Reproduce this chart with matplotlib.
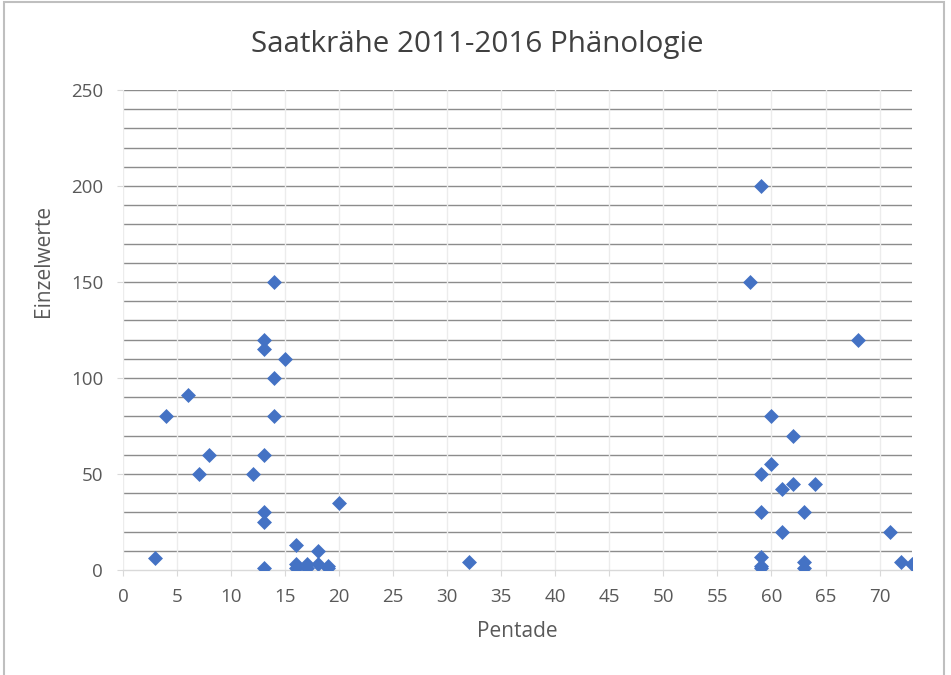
import numpy as np
import matplotlib.pyplot as plt
from matplotlib.patches import Rectangle

# Saatkrähe 2011-2016, Einzelwerte je Pentade
pentade = [3, 4, 6, 7, 8, 12,
           13, 13, 13, 13, 13, 13,
           14, 14, 14, 15,
           16, 16, 16, 17, 17, 18, 18, 19, 19, 20, 32,
           58, 59, 59, 59, 59, 59, 59,
           60, 60, 61, 61, 62, 62, 63, 63, 63, 64,
           68, 71, 72, 73]
einzelwerte = [6, 80, 91, 50, 60, 50,
               120, 115, 60, 30, 25, 1,
               150, 100, 80, 110,
               13, 3, 1, 3, 1, 10, 3, 2, 1, 35, 4,
               150, 200, 50, 30, 7, 2, 1,
               80, 55, 42, 20, 70, 45, 30, 4, 1, 45,
               120, 20, 4, 3]

titel = "Saatkrähe 2011-2016 Phänologie"
x_titel = "Pentade"
y_titel = "Einzelwerte"

plt.rcParams['font.family'] = ['Open Sans', 'DejaVu Sans']
textfarbe = "#595959"

fig = plt.figure(figsize=(9.51, 6.75), dpi=100)
ax = fig.add_axes([123 / 951, 105 / 675, 789 / 951, 480 / 675])

# Rahmen des Diagramms (wie Excel)
fig.patches.append(Rectangle((4 / 951, -0.1), 940 / 951, 1.097, transform=fig.transFigure,
                             fill=False, edgecolor="#bfbfbf", linewidth=1.5))

ax.set_xlim(0, 73)
ax.set_ylim(0, 250)
ax.set_xticks(np.arange(0, 71, 5))
ax.set_yticks(np.arange(0, 251, 50))

# Gitternetz
for y in np.arange(10, 251, 10):
    ax.axhline(y, color="#8c8c8c", linewidth=1.0, zorder=1)
for x in np.arange(0, 71, 5):
    ax.axvline(x, color="#ececec", linewidth=1.0, zorder=2)

ax.scatter(pentade, einzelwerte, marker="D", s=58, color="#4472C4", zorder=3, linewidths=0)

for side in ["top", "right", "left"]:
    ax.spines[side].set_visible(False)
ax.spines["bottom"].set_color("#d9d9d9")
ax.spines["bottom"].set_linewidth(1.0)

ax.tick_params(axis="x", colors="#d9d9d9", labelcolor=textfarbe, labelsize=13.5,
               length=4, direction="out", pad=9)
ax.tick_params(axis="y", colors="#d9d9d9", labelcolor=textfarbe, labelsize=13.5,
               length=4.3, direction="out", pad=10)

fig.text(0.502, 1 - 52 / 675, titel, fontsize=21.3, color="#404040",
         ha="center", va="baseline")
ax.set_xlabel(x_titel, fontsize=15, color=textfarbe)
ax.set_ylabel(y_titel, fontsize=15, color=textfarbe)
ax.xaxis.set_label_coords(0.5, -0.106)
ax.yaxis.set_label_coords(-0.0875, 0.644)

fig.savefig("out.png", dpi=100)
